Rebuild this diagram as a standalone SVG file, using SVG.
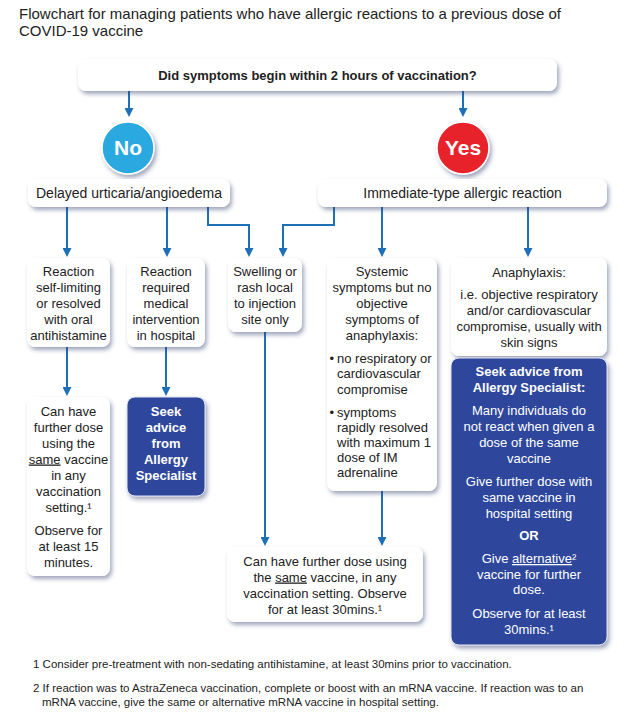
<svg xmlns="http://www.w3.org/2000/svg" width="624" height="715" viewBox="0 0 624 715">
<defs>
<filter id="sh" x="-20%" y="-20%" width="140%" height="150%">
<feDropShadow dx="2" dy="3" stdDeviation="2" flood-color="#2b3a6b" flood-opacity="0.45"/>
</filter>
<marker id="ah" markerUnits="userSpaceOnUse" markerWidth="10" markerHeight="9" refX="0" refY="4.5" orient="auto">
<path d="M0,0 L9,4.5 L0,9 z" fill="#1d6fb8"/>
</marker>
<style>
text{font-family:"Liberation Sans",Arial,sans-serif;fill:#222}
.t{font-size:13px;text-anchor:middle}
.l{font-size:13px;text-anchor:start}
.b{font-weight:bold}
.w{fill:#fff}
.box{fill:#fff;filter:url(#sh)}
.dk{fill:#2e479c;stroke:#dfe4f2;stroke-width:1;filter:url(#sh)}
.c{fill:none;stroke:#1d6fb8;stroke-width:2;marker-end:url(#ah)}
.u{text-decoration:underline}
.fn{font-size:11.5px}
</style>
</defs>
<text x="19" y="19" style="font-size:15px">Flowchart for managing patients who have allergic reactions to a previous dose of</text>
<text x="19" y="36" style="font-size:15px">COVID-19 vaccine</text>

<g id="connectors">
<path class="c" d="M129,91 V108"/>
<path class="c" d="M463,91 V108"/>
<path class="c" d="M67,207 V248"/>
<path class="c" d="M167,207 V248"/>
<path class="c" d="M208,207 V225 H249 V248"/>
<path class="c" d="M334,207 V225 H283 V248"/>
<path class="c" d="M382,207 V248"/>
<path class="c" d="M528,207 V248"/>
<path class="c" d="M67,347 V387"/>
<path class="c" d="M166,347 V387"/>
<path class="c" d="M265,332 V537"/>
<path class="c" d="M382,491 V537"/>
</g>

<g id="q">
<rect class="box" x="78" y="59" width="479" height="32" rx="8"/>
<text class="t b" x="317.5" y="80">Did symptoms begin within 2 hours of vaccination?</text>
</g>
<g id="no">
<circle cx="128" cy="148" r="26" fill="#29a9e0" stroke="#fff" stroke-width="1.5" filter="url(#sh)"/>
<text class="b w" x="128" y="155" style="font-size:21px;text-anchor:middle">No</text>
</g>
<g id="yes">
<circle cx="463" cy="148" r="26" fill="#e8202a" stroke="#fff" stroke-width="1.5" filter="url(#sh)"/>
<text class="b w" x="463" y="155" style="font-size:21px;text-anchor:middle">Yes</text>
</g>
<g id="delayed">
<rect class="box" x="28" y="179" width="202" height="28" rx="8"/>
<text x="129" y="198" style="font-size:14px;text-anchor:middle">Delayed urticaria/angioedema</text>
</g>
<g id="immediate">
<rect class="box" x="318" y="179" width="289" height="28" rx="8"/>
<text x="462.5" y="198" style="font-size:14px;text-anchor:middle">Immediate-type allergic reaction</text>
</g>
<g id="selflimiting">
<rect class="box" x="27" y="258" width="83" height="89" rx="8"/>
<text class="t" x="68.5" y="275.5">Reaction</text>
<text class="t" x="68.5" y="291.5">self-limiting</text>
<text class="t" x="68.5" y="307.5">or resolved</text>
<text class="t" x="68.5" y="323.5">with oral</text>
<text class="t" x="68.5" y="339.5">antihistamine</text>
</g>
<g id="hospital">
<rect class="box" x="127" y="258" width="78" height="89" rx="8"/>
<text class="t" x="166" y="275.5">Reaction</text>
<text class="t" x="166" y="291.5">required</text>
<text class="t" x="166" y="307.5">medical</text>
<text class="t" x="166" y="323.5">intervention</text>
<text class="t" x="166" y="339.5">in hospital</text>
</g>
<g id="local">
<rect class="box" x="228" y="258" width="74" height="74" rx="8"/>
<text class="t" x="265" y="275.5">Swelling or</text>
<text class="t" x="265" y="291.5">rash local</text>
<text class="t" x="265" y="307.5">to injection</text>
<text class="t" x="265" y="323.5">site only</text>
</g>
<g id="systemic">
<rect class="box" x="327" y="258" width="110" height="233" rx="8"/>
<text class="t" x="382" y="275.5">Systemic</text>
<text class="t" x="382" y="291.5">symptoms but no</text>
<text class="t" x="382" y="307.5">objective</text>
<text class="t" x="382" y="323.5">symptoms of</text>
<text class="t" x="382" y="339.5">anaphylaxis:</text>
<text class="l" x="329.5" y="362.5">•</text>
<text class="l" x="337" y="362.5">no respiratory or</text>
<text class="l" x="337" y="378">cardiovascular</text>
<text class="l" x="337" y="393.5">compromise</text>
<text class="l" x="329.5" y="416.5">•</text>
<text class="l" x="337" y="416.5">symptoms</text>
<text class="l" x="337" y="431.5">rapidly resolved</text>
<text class="l" x="337" y="446.5">with maximum 1</text>
<text class="l" x="337" y="461.5">dose of IM</text>
<text class="l" x="337" y="476.5">adrenaline</text>
</g>
<g id="anaphylaxis">
<rect class="box" x="451" y="258" width="156" height="98" rx="8"/>
<text class="t" x="529" y="276.5">Anaphylaxis:</text>
<text class="t" x="529" y="298.5">i.e. objective respiratory</text>
<text class="t" x="529" y="314.5">and/or cardiovascular</text>
<text class="t" x="529" y="330.5">compromise, usually with</text>
<text class="t" x="529" y="346.5">skin signs</text>
</g>
<g id="samevaccine15">
<rect class="box" x="27" y="397" width="83" height="179" rx="8"/>
<text class="t" x="68.5" y="415.5">Can have</text>
<text class="t" x="68.5" y="431.5">further dose</text>
<text class="t" x="68.5" y="447.5">using the</text>
<text class="t" x="68.5" y="463.5"><tspan class="u">same</tspan> vaccine</text>
<text class="t" x="68.5" y="479.5">in any</text>
<text class="t" x="68.5" y="495.5">vaccination</text>
<text class="t" x="68.5" y="511.5">setting.¹</text>
<text class="t" x="68.5" y="534.5">Observe for</text>
<text class="t" x="68.5" y="550.5">at least 15</text>
<text class="t" x="68.5" y="566.5">minutes.</text>
</g>
<g id="seekadvice">
<rect class="dk" x="127" y="397" width="78" height="99" rx="8"/>
<text class="t b w" x="166" y="415.5">Seek</text>
<text class="t b w" x="166" y="431.5">advice</text>
<text class="t b w" x="166" y="447.5">from</text>
<text class="t b w" x="166" y="463.5">Allergy</text>
<text class="t b w" x="166" y="479.5">Specialist</text>
</g>
<g id="samevaccine30">
<rect class="box" x="227" y="547" width="196" height="75" rx="8"/>
<text class="t" x="325" y="565.5">Can have further dose using</text>
<text class="t" x="325" y="581.5">the <tspan class="u">same</tspan> vaccine, in any</text>
<text class="t" x="325" y="597.5">vaccination setting. Observe</text>
<text class="t" x="325" y="613.5">for at least 30mins.¹</text>
</g>
<g id="specialist">
<rect class="dk" x="451" y="358" width="156" height="287" rx="8"/>
<text class="t b w" x="529" y="375.5">Seek advice from</text>
<text class="t b w" x="529" y="391.5">Allergy Specialist:</text>
<text class="t w" x="529" y="414.5">Many individuals do</text>
<text class="t w" x="529" y="430.5">not react when given a</text>
<text class="t w" x="529" y="446.5">dose of the same</text>
<text class="t w" x="529" y="462.5">vaccine</text>
<text class="t w" x="529" y="485.5">Give further dose with</text>
<text class="t w" x="529" y="501.5">same vaccine in</text>
<text class="t w" x="529" y="517.5">hospital setting</text>
<text class="t b w" x="529" y="539.5">OR</text>
<text class="t w" x="529" y="563">Give <tspan class="u">alternative</tspan>²</text>
<text class="t w" x="529" y="578.5">vaccine for further</text>
<text class="t w" x="529" y="594">dose.</text>
<text class="t w" x="529" y="618">Observe for at least</text>
<text class="t w" x="529" y="633.5">30mins.¹</text>
</g>

<text class="fn" x="33" y="668">1 Consider pre-treatment with non-sedating antihistamine, at least 30mins prior to vaccination.</text>
<text class="fn" x="33" y="692">2 If reaction was to AstraZeneca vaccination, complete or boost with an mRNA vaccine. If reaction was to an</text>
<text class="fn" x="42" y="706">mRNA vaccine, give the same or alternative mRNA vaccine in hospital setting.</text>
</svg>
